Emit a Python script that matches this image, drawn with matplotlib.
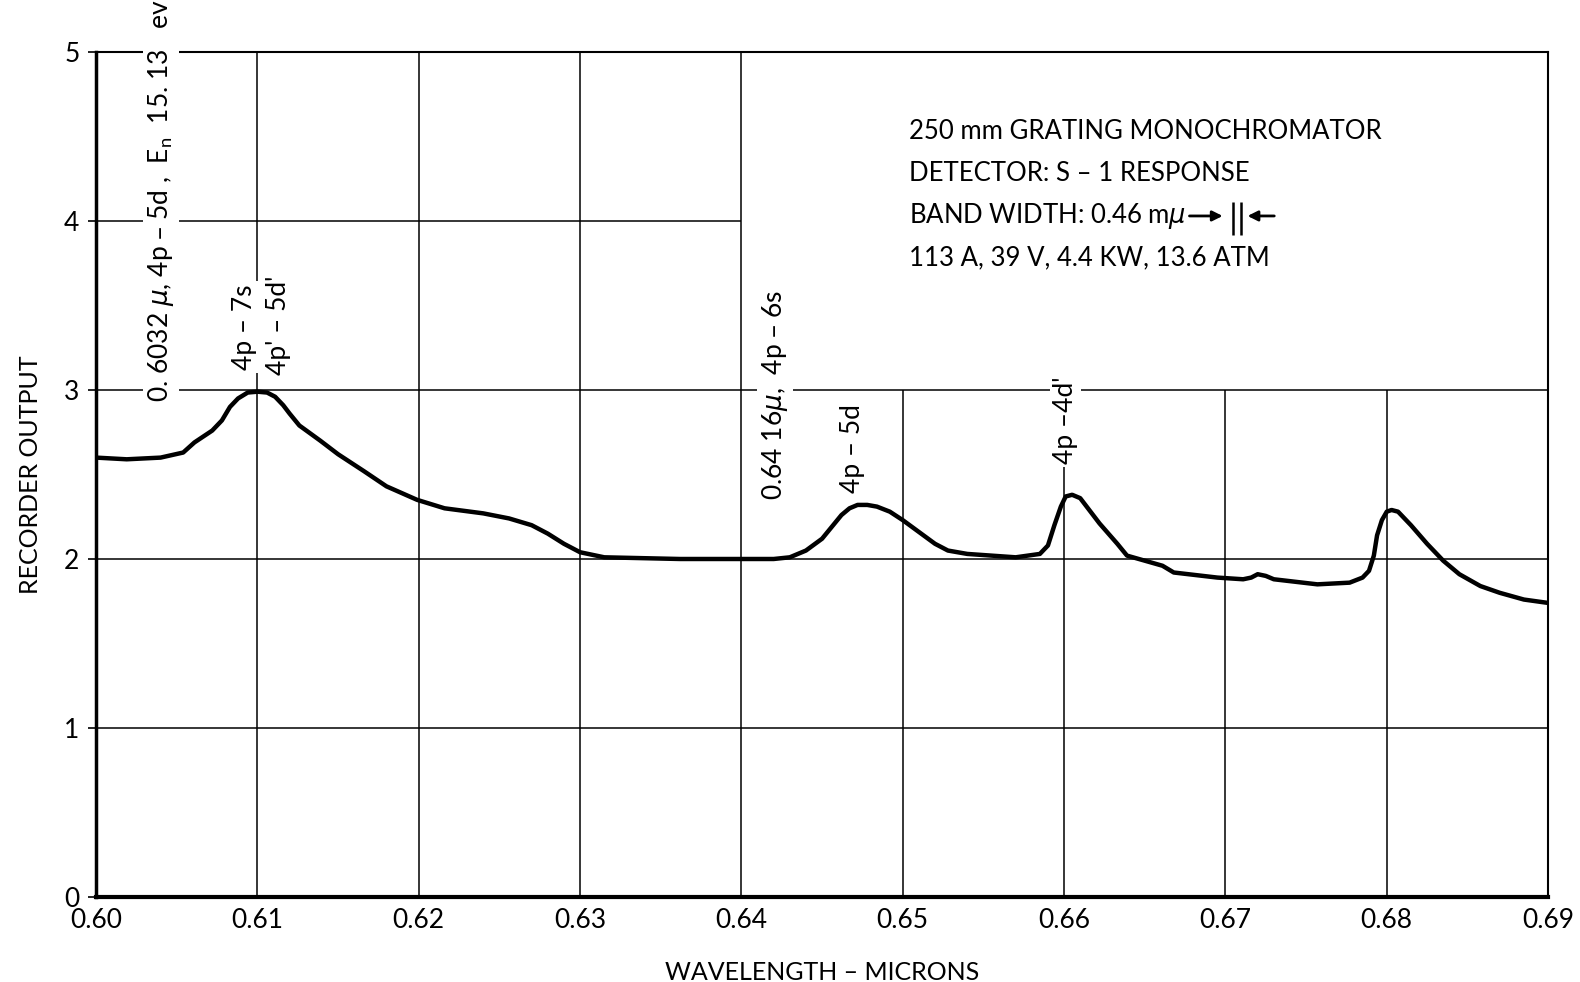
import matplotlib
matplotlib.use('Agg')
from matplotlib import pyplot as plt

plt.rcParams['font.family'] = ['Lato', 'DejaVu Sans']

# recorder trace, wavelength in microns
wavelength = [0.6000, 0.6019, 0.6040, 0.6054, 0.6061, 0.6072, 0.6078, 0.6083,
              0.6088, 0.6094, 0.6100, 0.6106, 0.6111, 0.6116, 0.6120, 0.6126,
              0.6139, 0.6150, 0.6166, 0.6180, 0.6199, 0.6216, 0.6240, 0.6256,
              0.6270, 0.6280, 0.6290, 0.6300, 0.6315, 0.6362, 0.6400, 0.6420,
              0.6430, 0.6440, 0.6450, 0.6456, 0.6462, 0.6467, 0.6472, 0.6478,
              0.6484, 0.6492, 0.6500, 0.6510, 0.6520, 0.6528, 0.6540, 0.6555,
              0.6570, 0.6585, 0.6590, 0.6594, 0.6598, 0.6601, 0.6605, 0.6610,
              0.6622, 0.6633, 0.6639, 0.6661, 0.6668, 0.6695, 0.6711, 0.6716,
              0.6720, 0.6725, 0.6730, 0.6757, 0.6777, 0.6785, 0.6789, 0.6792,
              0.6794, 0.6797, 0.6800, 0.6803, 0.6807, 0.6815, 0.6825, 0.6835,
              0.6845, 0.6858, 0.6870, 0.6885, 0.6900]
output = [2.60, 2.59, 2.60, 2.63, 2.69, 2.76, 2.82, 2.90,
          2.95, 2.985, 2.99, 2.985, 2.96, 2.91, 2.86, 2.79,
          2.70, 2.62, 2.52, 2.43, 2.35, 2.30, 2.27, 2.24,
          2.20, 2.15, 2.09, 2.04, 2.01, 2.00, 2.00, 2.00,
          2.01, 2.05, 2.12, 2.19, 2.26, 2.30, 2.32, 2.32,
          2.31, 2.28, 2.23, 2.16, 2.09, 2.05, 2.03, 2.02,
          2.01, 2.03, 2.08, 2.20, 2.31, 2.37, 2.38, 2.36,
          2.21, 2.09, 2.02, 1.96, 1.92, 1.89, 1.88, 1.89,
          1.91, 1.90, 1.88, 1.85, 1.86, 1.89, 1.93, 2.02,
          2.14, 2.23, 2.28, 2.29, 2.28, 2.20, 2.09, 1.99,
          1.91, 1.84, 1.80, 1.76, 1.74]

x_ticks = [0.60, 0.61, 0.62, 0.63, 0.64, 0.65, 0.66, 0.67, 0.68, 0.69]
x_tick_labels = ['0.60', '0.61', '0.62', '0.63', '0.64', '0.65', '0.66', '0.67', '0.68', '0.69']
y_ticks = [0, 1, 2, 3, 4, 5]

# line identifications: (x, bottom y, text)
line_labels = [
    (0.6040, 2.93, r'0. 6032 $\mu$, 4p – 5d ,  E$_\mathregular{n}$  15. 13   ev'),
    (0.6092, 3.12, '4p – 7s'),
    (0.6113, 3.09, "4p' – 5d'"),
    (0.6421, 2.35, r'0.64 16$\mu$,  4p – 6s'),
    (0.6469, 2.39, '4p – 5d'),
    (0.6601, 2.56, "4p –4d'"),
]

info_lines = ['250 mm GRATING MONOCHROMATOR',
              'DETECTOR: S – 1 RESPONSE',
              r'BAND WIDTH: 0.46 m$\mu$',
              '113 A, 39 V, 4.4 KW, 13.6 ATM']
info_y = [4.53, 4.28, 4.03, 3.78]

fig = plt.figure(figsize=(15.8, 9.82), dpi=100)
ax = fig.add_axes([0.0608, 0.0866, 0.919, 0.8604])
ax.set_xlim(0.60, 0.69)
ax.set_ylim(0, 5)

# grid, with the upper right corner left open for the notes
ax.hlines([1, 2, 3], 0.60, 0.69, color='black', lw=1.1, zorder=1)
ax.hlines([4], 0.60, 0.64, color='black', lw=1.1, zorder=1)
ax.vlines([0.61, 0.62, 0.63, 0.64], 0, 5, color='black', lw=1.1, zorder=1)
ax.vlines([0.65, 0.66, 0.67, 0.68], 0, 3, color='black', lw=1.1, zorder=1)

ax.plot(wavelength, output, color='black', lw=3.2, solid_capstyle='round',
        solid_joinstyle='round', zorder=4)

for x, y, s in line_labels:
    ax.text(x, y, s, rotation=90, ha='center', va='bottom', fontsize=19,
            clip_on=False, zorder=3,
            bbox=dict(facecolor='white', edgecolor='none', pad=2))

for s, y in zip(info_lines, info_y):
    ax.text(0.6504, y, s, ha='left', va='center', fontsize=18.5, zorder=3)

# band width marker
ax.annotate('', xy=(0.67000, 4.03), xytext=(0.66760, 4.03),
            arrowprops=dict(arrowstyle='-|>', color='black', lw=2, mutation_scale=15))
ax.annotate('', xy=(0.67120, 4.03), xytext=(0.67320, 4.03),
            arrowprops=dict(arrowstyle='-|>', color='black', lw=2, mutation_scale=15))
ax.vlines([0.67048, 0.67097], 3.92, 4.11, color='black', lw=1.8)

ax.set_xticks(x_ticks)
ax.set_xticklabels(x_tick_labels)
ax.set_yticks(y_ticks)
ax.tick_params(axis='x', length=0, pad=8, labelsize=19)
ax.tick_params(axis='y', direction='out', length=6, width=1.2, pad=6, labelsize=19)

ax.spines['left'].set_linewidth(2.5)
ax.spines['bottom'].set_linewidth(3)
ax.spines['top'].set_linewidth(1.5)
ax.spines['right'].set_linewidth(1.5)

ax.set_xlabel('WAVELENGTH – MICRONS', fontsize=18, labelpad=20)
ax.set_ylabel('RECORDER OUTPUT', fontsize=18, labelpad=16)

fig.savefig('out.png', dpi=100, facecolor='white')
